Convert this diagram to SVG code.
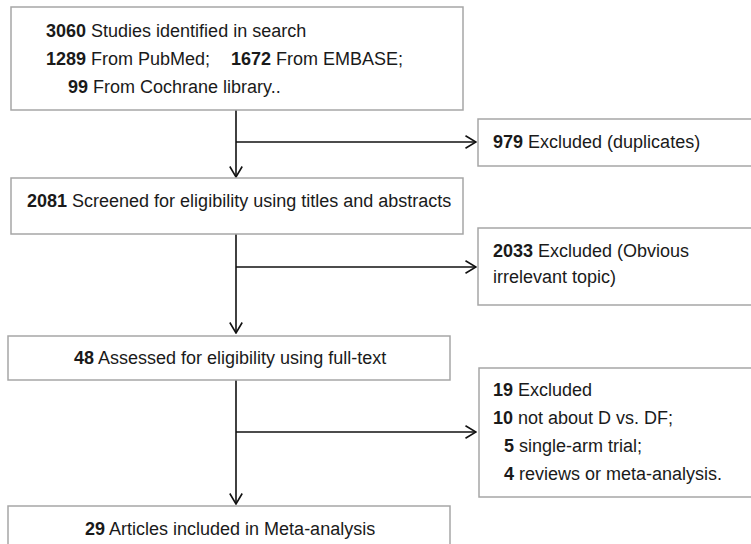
<svg xmlns="http://www.w3.org/2000/svg" width="751" height="544" viewBox="0 0 751 544">
<style>
.box{fill:#fff;stroke:#a6a6a6;stroke-width:1.5}
.t{font-family:"Liberation Sans",Arial,sans-serif;font-size:18px;fill:#1a1a1a}
.b{font-weight:bold}
.ln{fill:none;stroke:#111;stroke-width:1.6}
</style>
<defs>
<marker id="arr" viewBox="0 0 12 14" refX="11" refY="7" markerWidth="12" markerHeight="14" markerUnits="userSpaceOnUse" orient="auto">
<path d="M0.5,0.8 L11,7 L0.5,13.2" fill="none" stroke="#111" stroke-width="1.6"/>
</marker>
</defs>
<rect width="751" height="544" fill="#fff"/>
<g id="connectors">
<path class="ln" d="M236,110 V177" marker-end="url(#arr)"/>
<path class="ln" d="M236,142 H476" marker-end="url(#arr)"/>
<path class="ln" d="M236,234 V333" marker-end="url(#arr)"/>
<path class="ln" d="M236,267 H476" marker-end="url(#arr)"/>
<path class="ln" d="M236,380 V504" marker-end="url(#arr)"/>
<path class="ln" d="M236,432 H476" marker-end="url(#arr)"/>
</g>
<g id="n1">
<rect class="box" x="11" y="7" width="452" height="103"/>
<text class="t" x="46" y="37"><tspan class="b">3060</tspan> Studies identified in search</text>
<text class="t" x="46" y="65"><tspan class="b">1289</tspan> From PubMed;</text>
<text class="t" x="231" y="65"><tspan class="b">1672</tspan> From EMBASE;</text>
<text class="t" x="68" y="93"><tspan class="b">99</tspan> From Cochrane library..</text>
</g>
<g id="n979">
<rect class="box" x="478" y="119" width="290" height="47"/>
<text class="t" x="493" y="148"><tspan class="b">979</tspan> Excluded (duplicates)</text>
</g>
<g id="n2">
<rect class="box" x="11" y="178" width="452" height="56"/>
<text class="t" x="27" y="207"><tspan class="b">2081</tspan> Screened for eligibility using titles and abstracts</text>
</g>
<g id="n2033">
<rect class="box" x="478" y="228" width="290" height="77"/>
<text class="t" x="493" y="257"><tspan class="b">2033</tspan> Excluded (Obvious</text>
<text class="t" x="493" y="283">irrelevant topic)</text>
</g>
<g id="n3">
<rect class="box" x="8" y="336" width="442" height="44"/>
<text class="t" x="74" y="364"><tspan class="b">48</tspan> Assessed for eligibility using full-text</text>
</g>
<g id="n19">
<rect class="box" x="479" y="368" width="290" height="129"/>
<text class="t" x="493" y="396"><tspan class="b">19</tspan> Excluded</text>
<text class="t" x="493" y="424"><tspan class="b">10</tspan> not about D vs. DF;</text>
<text class="t" x="504" y="452"><tspan class="b">5</tspan> single-arm trial;</text>
<text class="t" x="504" y="480"><tspan class="b">4</tspan> reviews or meta-analysis.</text>
</g>
<g id="n4">
<rect class="box" x="8" y="506" width="442" height="50"/>
<text class="t" x="85" y="535"><tspan class="b">29</tspan> Articles included in Meta-analysis</text>
</g>
</svg>
